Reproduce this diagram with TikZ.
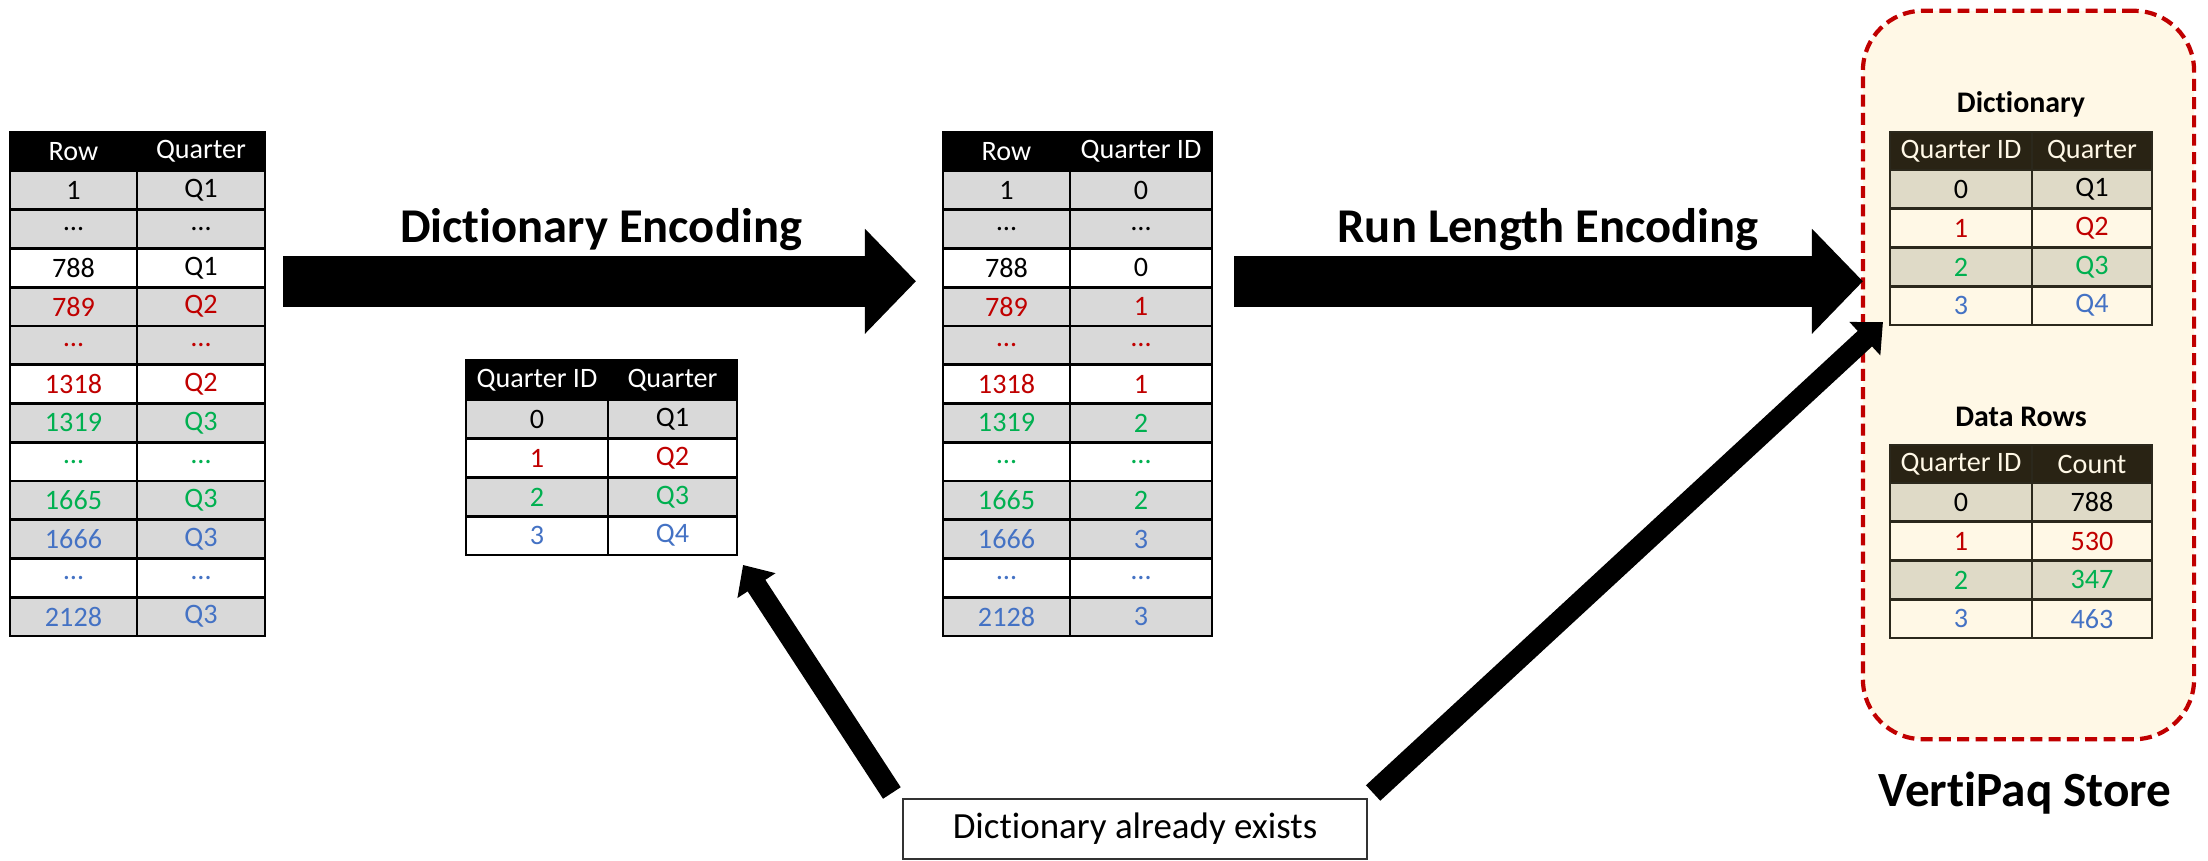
\documentclass[tikz,border=0pt]{standalone}
\usepackage{fontspec}
\setmainfont{Carlito}[Ligatures=NoCommon]
\usetikzlibrary{arrows.meta}

\definecolor{qred}{HTML}{C00000}
\definecolor{qgreen}{HTML}{00B050}
\definecolor{qblue}{HTML}{4472C4}
\definecolor{rowgray}{HTML}{D9D9D9}
\definecolor{storebg}{HTML}{FFF8E6}
\definecolor{storehead}{HTML}{292314}
\definecolor{storegray}{HTML}{DFDAC7}
\definecolor{storeline}{HTML}{2B281C}

\begin{document}
\begin{tikzpicture}[x=0.01cm, y=-0.01cm]
\useasboundingbox (0,0) rectangle (2208,860);
\begin{scope}
	\tikzstyle{every node}=[inner sep=0pt, outer sep=0pt, align=center]
	\tikzstyle{cell}=[draw, line width=0.8pt, minimum height=0.3875cm, font=\fontsize{8}{9}\selectfont]
	\tikzstyle{hd}=[cell, fill=black, text=white, minimum height=0.39cm]
	\tikzstyle{gc}=[cell, fill=rowgray]
	\tikzstyle{wc}=[cell, fill=white]
	\tikzstyle{shd}=[cell, draw=storeline, fill=storehead, text=storebg, minimum height=0.38cm]
	\tikzstyle{sgc}=[cell, draw=storeline, fill=storegray]
	\tikzstyle{swc}=[cell, draw=storeline, fill=storebg]
	\tikzstyle{title}=[font=\bfseries\fontsize{13.8}{15}\selectfont, anchor=base]
	\tikzstyle{bigarrow}=[line width=14.5pt, -{Triangle[width=29pt, length=14.5pt]}]
	\tikzstyle{diagarrow}=[line width=6pt, -{Triangle[width=12.5pt, length=7pt]}]

	% store panel behind the two result tables
	\node[draw=qred, fill=storebg, dashed, dash pattern=on 3.4pt off 1.8pt, line width=1.2pt,
		rounded corners=0.6cm, minimum width=3.31cm, minimum height=7.28cm] (store) at (2028.5,375) {};
	\node[font=\bfseries\fontsize{14}{16}\selectfont] (storelbl) at (2025,793) {VertiPaq Store};

	% source column
	\begin{scope}[colA/.style={minimum width=1.27cm}, colB/.style={minimum width=1.28cm}]
	\node[hd, colA] (la0) at (73.5,151.5) {Row};
	\node[hd, colB] (lb0) at (201,151.5) {Quarter};
	\node[gc, colA] (la1) at (73.5,190.4) {1};
	\node[gc, colB] (lb1) at (201,190.4) {Q1};
	\node[gc, colA] (la2) at (73.5,229.1) {…};
	\node[gc, colB] (lb2) at (201,229.1) {…};
	\node[wc, colA] (la3) at (73.5,267.9) {788};
	\node[wc, colB] (lb3) at (201,267.9) {Q1};
	\node[gc, colA, text=qred] (la4) at (73.5,306.6) {789};
	\node[gc, colB, text=qred] (lb4) at (201,306.6) {Q2};
	\node[gc, colA, text=qred] (la5) at (73.5,345.4) {…};
	\node[gc, colB, text=qred] (lb5) at (201,345.4) {…};
	\node[wc, colA, text=qred] (la6) at (73.5,384.1) {1318};
	\node[wc, colB, text=qred] (lb6) at (201,384.1) {Q2};
	\node[gc, colA, text=qgreen] (la7) at (73.5,422.9) {1319};
	\node[gc, colB, text=qgreen] (lb7) at (201,422.9) {Q3};
	\node[wc, colA, text=qgreen] (la8) at (73.5,461.6) {…};
	\node[wc, colB, text=qgreen] (lb8) at (201,461.6) {…};
	\node[gc, colA, text=qgreen] (la9) at (73.5,500.4) {1665};
	\node[gc, colB, text=qgreen] (lb9) at (201,500.4) {Q3};
	\node[gc, colA, text=qblue] (la10) at (73.5,539.1) {1666};
	\node[gc, colB, text=qblue] (lb10) at (201,539.1) {Q3};
	\node[wc, colA, text=qblue] (la11) at (73.5,577.9) {…};
	\node[wc, colB, text=qblue] (lb11) at (201,577.9) {…};
	\node[gc, colA, text=qblue] (la12) at (73.5,616.6) {2128};
	\node[gc, colB, text=qblue] (lb12) at (201,616.6) {Q3};
	\end{scope}

	% encoded column
	\begin{scope}[colA/.style={minimum width=1.27cm}, colB/.style={minimum width=1.42cm}]
	\node[hd, colA] (ma0) at (1006.5,151.5) {Row};
	\node[hd, colB] (mb0) at (1141,151.5) {Quarter ID};
	\node[gc, colA] (ma1) at (1006.5,190.4) {1};
	\node[gc, colB] (mb1) at (1141,190.4) {0};
	\node[gc, colA] (ma2) at (1006.5,229.1) {…};
	\node[gc, colB] (mb2) at (1141,229.1) {…};
	\node[wc, colA] (ma3) at (1006.5,267.9) {788};
	\node[wc, colB] (mb3) at (1141,267.9) {0};
	\node[gc, colA, text=qred] (ma4) at (1006.5,306.6) {789};
	\node[gc, colB, text=qred] (mb4) at (1141,306.6) {1};
	\node[gc, colA, text=qred] (ma5) at (1006.5,345.4) {…};
	\node[gc, colB, text=qred] (mb5) at (1141,345.4) {…};
	\node[wc, colA, text=qred] (ma6) at (1006.5,384.1) {1318};
	\node[wc, colB, text=qred] (mb6) at (1141,384.1) {1};
	\node[gc, colA, text=qgreen] (ma7) at (1006.5,422.9) {1319};
	\node[gc, colB, text=qgreen] (mb7) at (1141,422.9) {2};
	\node[wc, colA, text=qgreen] (ma8) at (1006.5,461.6) {…};
	\node[wc, colB, text=qgreen] (mb8) at (1141,461.6) {…};
	\node[gc, colA, text=qgreen] (ma9) at (1006.5,500.4) {1665};
	\node[gc, colB, text=qgreen] (mb9) at (1141,500.4) {2};
	\node[gc, colA, text=qblue] (ma10) at (1006.5,539.1) {1666};
	\node[gc, colB, text=qblue] (mb10) at (1141,539.1) {3};
	\node[wc, colA, text=qblue] (ma11) at (1006.5,577.9) {…};
	\node[wc, colB, text=qblue] (mb11) at (1141,577.9) {…};
	\node[gc, colA, text=qblue] (ma12) at (1006.5,616.6) {2128};
	\node[gc, colB, text=qblue] (mb12) at (1141,616.6) {3};
	\end{scope}

	% lookup table built on the way
	\begin{scope}[colA/.style={minimum width=1.42cm}, colB/.style={minimum width=1.29cm}]
	\node[hd, colA, minimum height=0.4cm] (sa0) at (537,380) {Quarter ID};
	\node[hd, colB, minimum height=0.4cm] (sb0) at (672.5,380) {Quarter};
	\node[gc, colA] (sa1) at (537,419.4) {0};
	\node[gc, colB] (sb1) at (672.5,419.4) {Q1};
	\node[wc, colA, text=qred] (sa2) at (537,458.1) {1};
	\node[wc, colB, text=qred] (sb2) at (672.5,458.1) {Q2};
	\node[gc, colA, text=qgreen] (sa3) at (537,496.9) {2};
	\node[gc, colB, text=qgreen] (sb3) at (672.5,496.9) {Q3};
	\node[wc, colA, text=qblue] (sa4) at (537,535.6) {3};
	\node[wc, colB, text=qblue] (sb4) at (672.5,535.6) {Q4};
	\end{scope}

	% stored dictionary and run lengths
	\begin{scope}[colA/.style={minimum width=1.42cm}, colB/.style={minimum width=1.20cm}]
	\node[font=\bfseries\fontsize{8.5}{10}\selectfont] (dictlbl) at (2021,104) {Dictionary};
	\node[shd, colA] (da0) at (1961,151) {Quarter ID};
	\node[shd, colB] (db0) at (2092,151) {Quarter};
	\node[sgc, colA] (da1) at (1961,189.4) {0};
	\node[sgc, colB] (db1) at (2092,189.4) {Q1};
	\node[swc, colA, text=qred] (da2) at (1961,228.1) {1};
	\node[swc, colB, text=qred] (db2) at (2092,228.1) {Q2};
	\node[sgc, colA, text=qgreen] (da3) at (1961,266.9) {2};
	\node[sgc, colB, text=qgreen] (db3) at (2092,266.9) {Q3};
	\node[swc, colA, text=qblue] (da4) at (1961,305.6) {3};
	\node[swc, colB, text=qblue] (db4) at (2092,305.6) {Q4};

	\node[font=\bfseries\fontsize{8.5}{10}\selectfont] (rowslbl) at (2021,417) {Data Rows};
	\node[shd, colA] (ca0) at (1961,464) {Quarter ID};
	\node[shd, colB] (cb0) at (2092,464) {Count};
	\node[sgc, colA] (ca1) at (1961,502.4) {0};
	\node[sgc, colB] (cb1) at (2092,502.4) {788};
	\node[swc, colA, text=qred] (ca2) at (1961,541.1) {1};
	\node[swc, colB, text=qred] (cb2) at (2092,541.1) {530};
	\node[sgc, colA, text=qgreen] (ca3) at (1961,579.9) {2};
	\node[sgc, colB, text=qgreen] (cb3) at (2092,579.9) {347};
	\node[swc, colA, text=qblue] (ca4) at (1961,618.6) {3};
	\node[swc, colB, text=qblue] (cb4) at (2092,618.6) {463};
	\end{scope}

	\node[draw=black!80, line width=0.5pt, fill=white, minimum width=4.64cm, minimum height=0.6cm,
		font=\fontsize{10.5}{12}\selectfont] (note) at (1135,829) {Dictionary already exists};

	\node[title] (delbl) at (601,242) {Dictionary Encoding};
	\node[title] (rlelbl) at (1548,242) {Run Length Encoding};

	\draw [bigarrow] ([shift={(18,-6)}]lb3.south east) -- ([shift={(-27,-6)}]ma3.south west);
	\draw [bigarrow] ([shift={(22,-6)}]mb3.south east) -- ([shift={(-27,-5)}]da3.south west);
	\draw [diagarrow] ([shift={(-11,-6)}]note.north west) -- ([shift={(6,10)}]sb4.south east);
	\draw [diagarrow] ([shift={(6,-6)}]note.north east) -- ([shift={(-7,-3)}]da4.south west);
\end{scope}
\end{tikzpicture}
\end{document}
